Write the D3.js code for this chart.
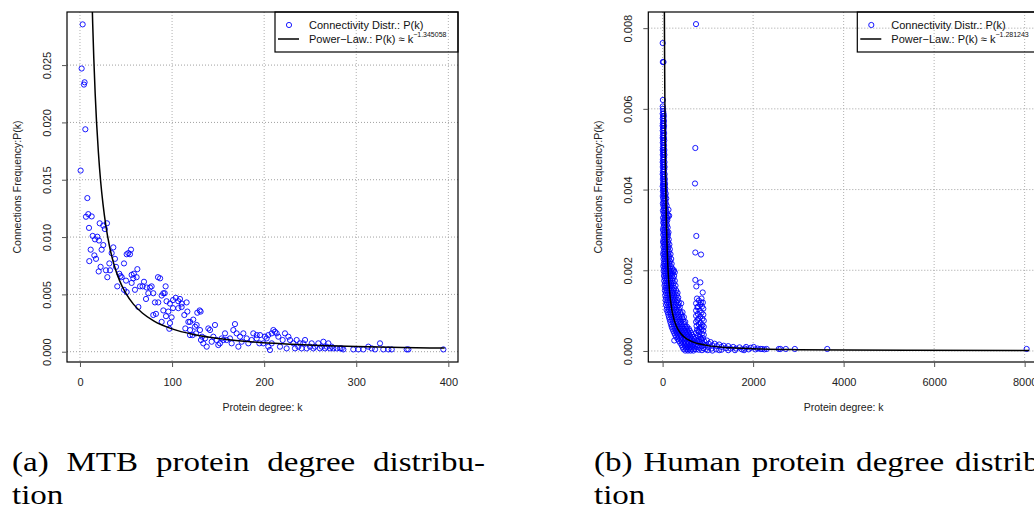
<!DOCTYPE html>
<html>
<head>
<style>
body { margin: 0; background: #fff; }
svg { display: block; }
.tick text { font-family: "Liberation Sans", Arial, sans-serif; font-size: 11px; fill: #222; }
</style>
</head>
<body>
<script src="https://d3js.org/d3.v7.min.js"></script>
<script>
// (a) MTB: connectivity distribution, [k, P(k)]
var mtbPoints = [
  [2.9,.02855],[1.8,.0247],[4.3,.0233],[5,.0235],[5.8,.0194],[0.7,.0158],[8,.0134],[6.5,.01177],[9,.012],[12.7,.0118],
  [9.8,.0108],[21.4,.0112],[25.3,.011],[29.3,.0112],[27,.0107],[13.8,.0101],[16.3,.0098],[18.8,.01003],[20.6,.0097],[11.6,.0089],
  [15.6,.0084],[17.4,.0081],[10.1,.0079],[23.5,.0089],[25.3,.0093],[22.4,.0074],[20.3,.007],[28.2,.0071],[29.7,.0065],[31.9,.0077],
  [34.4,.0086],[36.2,.0091],[38,.0081],[32.6,.0071],[39.1,.0074],[40.5,.0057],[42.7,.0068],[45.3,.0065],[47.8,.0077],[50.7,.0085],
  [52.5,.0086],[54.3,.0085],[55.4,.0089],[47.8,.0054],[50.7,.0052],[50,.0062],[56.1,.0067],[57.9,.0064],[61.5,.0065],[62.3,.0072],
  [56.1,.006],[59.7,.0054],[63.4,.0039],[65.2,.0057],[68,.0057],[69.5,.0061],[72.4,.0056],[74.2,.0051],[71.7,.0046],[76,.0056],
  [77.8,.0057],[79.6,.0051],[81.4,.0043],[85,.0043],[84.7,.0065],[87,.0064],[88.7,.0049],[90.5,.0051],[93,.0057],[92,.0051],
  [79.6,.0032],[82.5,.0033],[90.5,.0036],[88.7,.0026],[94,.0044],[97.7,.0042],[101,.0045],[104,.0047],[106.8,.0044],[108.6,.0046],
  [110.4,.0042],[110.4,.0039],[106.8,.0038],[101,.0038],[95.9,.0035],[99.5,.003],[93.4,.0031],[97.7,.0025],[97,.002],[113.3,.0032],
  [115.8,.0043],[116.6,.0035],[117.7,.0026],[119.5,.0026],[123,.0028],[127.4,.0034],[130,.0036],[131,.0035],[44,.0066],[58.5,.0068],
  [114.4,.00203],[119.5,.00189],[122.4,.00145],[124.9,.00218],[126.7,.00233],[130.3,.00189],[132.5,.00131],[133.9,.00073],[137.6,.00044],[139.4,.00203],
  [141.2,.00189],[144.8,.00131],[146.6,.00233],[148.4,.00102],[152,.00073],[153.9,.00116],[157.5,.0016],[159.3,.00102],[162.9,.00116],[166.5,.00189],
  [168.3,.00241],[170.1,.0016],[172,.00044],[173.8,.00131],[177.4,.0016],[181,.00116],[182.8,.00073],[188.2,.0016],[191.9,.00116],[194.8,.00073],
  [195.5,.00145],[199.1,.00073],[200.9,.00131],[202.7,.00116],[204.5,.00044],[206.3,.00015],[208.2,.00073],[210,.00189],[211.8,.00174],[213.6,.0016],
  [215.4,.00131],[217.2,.00044],[220.1,.00102],[222.6,.0016],[224.4,.00029],[226.3,.00131],[228.1,.00102],[231.7,.00073],[233.5,.00029],[235.3,.00102],
  [237.1,.00044],[238.9,.00073],[240.7,.00029],[242.5,.00073],[244.4,.00102],[246.2,.00029],[249.8,.00044],[251.6,.00073],[253.4,.00029],[255.2,.00044],
  [258.8,.00073],[260.6,.00029],[262.5,.00044],[264.3,.00087],[266.1,.00029],[267.9,.00044],[269.7,.00073],[271.5,.00029],[273.3,.00044],[275.1,.00029],
  [278.7,.00029],[282.4,.00029],[284.2,.00029],[286,.0002],[204.5,.00145],[208.2,.0016],[191.9,.00145],[186.4,.00102],[175.6,.00087],[164.7,.00073],
  [155.7,.00102],[150.2,.00058],[143,.00087],[135.8,.00116],[131.4,.00102],[126,.0016],[119.5,.00145],
  [296.8,.0002],[302.3,.0002],[307.7,.0002],[313.1,.00044],[316.8,.00029],[320.4,.0002],[325.8,.00073],[329.4,.0002],[334.9,.0002],[338.5,.0002],
  [354.8,.0002],[356.6,.0002],[394.6,.0002]
];
// (a) power-law fit
var mtbFit = [
  [13,.031],[13.8,.0286],[15,.0256],[16.5,.0225],[18,.02],[20,.01737],[22.5,.0148],[25,.01287],[28,.01104],[32,.00922],
  [37,.00758],[43,.0062],[50,.00506],[58,.00415],[68,.00335],[80,.00269],[100,.00199],[125,.00148],[150,.00115],[180,.000904],
  [220,.00069],[260,.000551],[300,.000455],[350,.00037],[396,.000313]
];

// (b) Human: scattered points, [k, P(k)]
var humanPoints = [
  [738,.0081],[2,.00763],[5,.00716],[20,.00716],[6,.00622],[3,.00606],[723,.00503],[716,.00415],[745,.00285],[723,.00244],
  [849,.00239],[723,.00176],[834,.0017],[745,.0016],[886,.00145],[258,.00026],[3638,.00005],[8044,.00005],[2922,.00005],[2723,.00005],
  [2605,.00005],[2568,.00005],[2199,.00005],[2162,.00005],[2014,.0001],[1845,.0001],
  [130,.0035],[145,.00335],[110,.0033],[250,.002],[270,.00195],[410,.00118],
  [760,.0013],[860,.0013],[800,.00125],[890,.0012],[740,.00118],[830,.00115],[870,.0011],[770,.00108],[900,.00105],[740,.001],
  [820,.001],[860,.00095],[780,.00092],[900,.0009],[740,.00087],[830,.00085],[880,.0008],[770,.00077],[910,.00075],[740,.00072],
  [840,.0007],[800,.00066],[880,.00064],[750,.00062],[910,.0006],[820,.00057],[860,.00054],[760,.00052],[900,.0005],[800,.00047],
  [740,.00045],[870,.00043],[910,.0004],[780,.00038],[830,.00035],[740,.00033],[890,.00032],[800,.0003],[860,.00027],[760,.00025],
  [920,.00024],[820,.00022],[880,.00019],[740,.00018],[790,.00015],[940,.00015],[860,.00012],[760,.0001],[820,.00008],[900,.00007],
  [740,.00004],[800,.00003],[870,.00002],[950,.00004],[780,.0011],[850,.0012],[790,.0008],[850,.0006],[790,.0005],[850,.0003],
  [980,.00026],[1020,.00018],[1060,.00022],[1100,.00014],[1000,.0001],[1150,.00018],[1200,.00012],[1080,.00006],[1250,.00016],[1300,.0001],
  [1180,.00004],[1350,.00013],[1400,.00007],[1300,.00003],[1450,.00012],[1500,.00006],[1450,.00002],[1560,.0001],[1620,.00006],[1700,.00009],
  [1750,.00004],[1820,.00006],[1900,.00004],[1950,.00008],[2050,.00004],[2100,.00006],[2250,.00004],[2300,.00005],[1600,.00002],[1000,.00002],
  [1100,.00001],[1250,.00002],[1800,.00002]
];
// (b) Human: the dense mass, read row by row as [P(k), [k, k, ...]]
var humanRows = [
  [.00600,[4]],[.00594,[14]],[.00588,[2,22]],[.00582,[9,28]],[.00576,[3,18]],[.00570,[12,30]],[.00564,[5,22]],[.00558,[1,16,32]],
  [.00552,[8,26]],[.00546,[3,20]],[.00540,[12,34]],[.00534,[6,24]],[.00528,[2,16,30]],[.00522,[10,36]],[.00516,[4,22]],[.00510,[14,32]],
  [.00504,[6,26]],[.00498,[2,18,38]],[.00492,[10,30]],[.00486,[4,22,40]],[.00480,[14,34]],[.00474,[6,26]],[.00468,[2,18,42]],[.00462,[10,32]],
  [.00456,[4,24,44]],[.00450,[14,36]],[.00444,[6,28]],[.00438,[2,20,46]],[.00432,[12,36]],[.00426,[5,26,50]],[.00420,[16,40]],[.00414,[8,30,55]],
  [.00408,[2,22,44]],[.00402,[14,36,60]],[.00396,[6,28,50]],[.00390,[18,42,70]],[.00384,[4,32,58]],[.00378,[12,46,80]],[.00372,[24,60]],[.00366,[6,38,72]],
  [.00360,[16,50,90]],[.00354,[28,64]],[.00348,[8,42,80]],[.00342,[20,56,95]],[.00336,[32,70,120]],[.00330,[10,48,88]],[.00324,[24,62,104]],[.00318,[14,40,78]],
  [.00312,[30,58,96]],[.00306,[18,72,112]],[.00300,[8,44,86]],[.00294,[26,60,100,130]],[.00288,[14,46,82,118]],[.00282,[34,70,108]],[.00276,[20,54,92,136]],[.00270,[10,40,76,120]],
  [.00264,[28,62,100,150]],[.00258,[16,48,86,130]],[.00252,[36,72,112,160]],[.00246,[22,56,96,140]],[.00240,[12,44,82,124,175]],[.00234,[30,66,106,150]],[.00228,[20,54,92,136,190]],[.00222,[40,78,118,165]],
  [.00216,[26,62,104,148,200]],[.00210,[16,50,90,132,180]],[.00204,[36,74,116,160,215]],[.00198,[24,60,100,144,190,240]],[.00192,[44,84,126,170,220]],[.00186,[30,70,112,156,205,255]],[.00180,[50,92,136,180,232]],[.00174,[36,78,120,166,214,270]],
  [.00168,[56,100,144,192,245]],[.00162,[42,86,130,176,226,285]],[.00156,[64,108,154,204,258]],[.00150,[50,94,140,188,240,300]],[.00144,[72,118,166,216,272,330]],[.00138,[58,104,152,202,256,315]],[.00132,[80,128,178,230,288,345]],[.00126,[66,114,164,216,270,330]],
  [.00120,[90,140,192,246,304,360]],[.00114,[76,126,178,232,290,350]],[.00108,[100,152,206,262,320,380]],[.00102,[88,138,192,248,306,365]],[.00096,[112,164,218,274,332,392,440]],[.00090,[126,180,236,294,354,414]],[.00084,[140,194,250,308,368,430,470]],[.00078,[156,210,266,326,386,448]],
  [.00072,[170,226,284,344,404,466,500]],[.00066,[186,242,300,362,424,484]],[.00060,[200,258,318,380,442,504,540]],[.00055,[218,276,338,400,462,524,580]],[.00050,[236,296,358,420,484,546,600]],[.00045,[256,316,378,442,506,570,630]],[.00040,[276,338,400,464,528,592,650]],[.00035,[300,360,424,488,552,616,670]],
  [.00030,[330,390,452,516,580,644,700]],[.00025,[360,420,484,548,612,676]],[.00020,[390,452,516,580,644,700]],[.00015,[420,484,548,612,676]],[.00010,[440,500,560,620,680]],[.00005,[460,520,580,640,700]],[.00001,[500,560,620,680]]
];
// (b) power-law fit
var humanFit = [
  [30,.0119],[35,.0098],[40,.00824],[45,.00709],[50,.0062],[60,.0049],[70,.00403],[85,.00314],[100,.00255],[125,.00192],
  [150,.00152],[200,.00105],[250,.00079],[300,.000624],[400,.000432],[500,.000325],[650,.000232],[800,.000178],[1000,.000133],[1400,.0000869],
  [2000,.000055],[3000,.0000327],[4000,.000023],[5500,.0000151],[8100,.0000091]
];

var mtbXTicks = [0, 100, 200, 300, 400];
var mtbYTicks = [0, 0.005, 0.010, 0.015, 0.020, 0.025];
var humanXTicks = [0, 2000, 4000, 6000, 8000];
var humanYTicks = [0, 0.002, 0.004, 0.006, 0.008];
var mtbExponent = "\u22121.345058";
var humanExponent = "\u22121.281243";
var captionA = ["(a) MTB protein degree distribu-", "tion"];
var captionB = ["(b) Human protein degree distribu-", "tion"];

// flatten the row readings into [k, P(k)] pairs
var humanAll = humanPoints.slice();
humanRows.forEach(function(r){
  r[1].forEach(function(k){ humanAll.push([k, r[0]]); });
});

var width = 1034, height = 512;
var svg = d3.select("body").append("svg")
    .attr("width", width)
    .attr("height", height);

var panels = [
  {id: "a", left: 67, right: 458, top: 12, bottom: 362,
   xDomain: [-14.1, 410.5], yDomain: [-0.000898, 0.02963],
   points: mtbPoints, fit: mtbFit, xTicks: mtbXTicks, yTicks: mtbYTicks,
   exponent: mtbExponent, legendLeft: 275, legendRight: 458},
  {id: "b", left: 648.3, right: 1039, top: 12, bottom: 362,
   xDomain: [-316, 8317], yDomain: [-0.000273, 0.0084],
   points: humanAll, fit: humanFit, xTicks: humanXTicks, yTicks: humanYTicks,
   exponent: humanExponent, legendLeft: 857.3, legendRight: 1045}
];

panels.forEach(function(p){
  var x = d3.scaleLinear().domain(p.xDomain).range([p.left, p.right]);
  var y = d3.scaleLinear().domain(p.yDomain).range([p.bottom, p.top]);
  var g = svg.append("g");

  g.append("clipPath").attr("id", "clip-" + p.id)
    .append("rect")
      .attr("x", p.left).attr("y", p.top)
      .attr("width", p.right - p.left).attr("height", p.bottom - p.top);

  // grid
  g.selectAll(".vgrid").data(p.xTicks).enter().append("line")
      .attr("x1", function(d){ return x(d); }).attr("x2", function(d){ return x(d); })
      .attr("y1", p.top).attr("y2", p.bottom)
      .attr("stroke", "#b0b0b0").attr("stroke-dasharray", "1,2");
  g.selectAll(".hgrid").data(p.yTicks).enter().append("line")
      .attr("y1", function(d){ return y(d); }).attr("y2", function(d){ return y(d); })
      .attr("x1", p.left).attr("x2", p.right)
      .attr("stroke", "#a0a0a0").attr("stroke-dasharray", "1,2");

  var plot = g.append("g").attr("clip-path", "url(#clip-" + p.id + ")");

  plot.selectAll("circle").data(p.points).enter().append("circle")
      .attr("cx", function(d){ return x(d[0]); })
      .attr("cy", function(d){ return y(d[1]); })
      .attr("r", 2.6)
      .attr("fill", "none")
      .attr("stroke", "#0000ff")
      .attr("stroke-width", 0.9);

  var line = d3.line()
      .x(function(d){ return x(d[0]); })
      .y(function(d){ return y(d[1]); })
      .curve(d3.curveMonotoneX);

  plot.append("path").datum(p.fit)
      .attr("d", line)
      .attr("fill", "none")
      .attr("stroke", "#000")
      .attr("stroke-width", 1.5);

  // box
  g.append("rect")
      .attr("x", p.left).attr("y", p.top)
      .attr("width", p.right - p.left).attr("height", p.bottom - p.top)
      .attr("fill", "none").attr("stroke", "#000").attr("stroke-width", 1.2);

  // axes
  var xAxis = g.append("g")
      .attr("transform", "translate(0," + p.bottom + ")")
      .call(d3.axisBottom(x).tickValues(p.xTicks).tickSize(5).tickPadding(11).tickFormat(d3.format("d")));
  xAxis.select(".domain").remove();
  xAxis.selectAll(".tick line").attr("stroke", "#555");

  var yAxis = g.append("g")
      .attr("transform", "translate(" + p.left + ",0)")
      .call(d3.axisLeft(y).tickValues(p.yTicks).tickSize(5).tickFormat(d3.format(".3f")));
  yAxis.select(".domain").remove();
  yAxis.selectAll(".tick line").attr("stroke", "#555");
  yAxis.selectAll(".tick text")
      .attr("x", null).attr("dy", "0.35em")
      .attr("text-anchor", "middle")
      .attr("transform", "translate(-20,0) rotate(-90)");

  // axis titles
  g.append("text")
      .attr("x", (p.left + p.right) / 2).attr("y", 411)
      .attr("text-anchor", "middle")
      .style("font-family", "Liberation Sans, Arial, sans-serif")
      .style("font-size", "10.5px").attr("fill", "#222")
      .text("Protein degree: k");
  g.append("text")
      .attr("transform", "translate(" + (p.left - 46) + "," + ((p.top + p.bottom) / 2) + ") rotate(-90)")
      .attr("text-anchor", "middle")
      .style("font-family", "Liberation Sans, Arial, sans-serif")
      .style("font-size", "10.5px").attr("fill", "#222")
      .text("Connections Frequency:P(k)");

  // legend
  var lg = g.append("g");
  lg.append("rect")
      .attr("x", p.legendLeft).attr("y", p.top)
      .attr("width", p.legendRight - p.legendLeft).attr("height", 40)
      .attr("fill", "none").attr("stroke", "#000").attr("stroke-width", 1.2);
  lg.append("circle")
      .attr("cx", p.legendLeft + 14).attr("cy", p.top + 13)
      .attr("r", 2.6).attr("fill", "none").attr("stroke", "#0000ff").attr("stroke-width", 0.9);
  lg.append("line")
      .attr("x1", p.legendLeft + 3).attr("x2", p.legendLeft + 24)
      .attr("y1", p.top + 27).attr("y2", p.top + 27)
      .attr("stroke", "#000").attr("stroke-width", 1.5);
  lg.append("text")
      .attr("x", p.legendLeft + 34).attr("y", p.top + 17)
      .style("font-family", "Liberation Sans, Arial, sans-serif").style("font-size", "11px").attr("fill", "#111")
      .text("Connectivity Distr.: P(k)");
  var t2 = lg.append("text")
      .attr("x", p.legendLeft + 34).attr("y", p.top + 31)
      .style("font-family", "Liberation Sans, Arial, sans-serif").style("font-size", "11px").attr("fill", "#111");
  t2.append("tspan").text("Power\u2212Law.: P(k) \u2248 k");
  t2.append("tspan").attr("dy", -6).style("font-size", "7px").text(p.exponent);
});

// captions, justified like the LaTeX subfigure text
function drawCaption(lines, x0, target){
  var sx = 1.18;
  lines.forEach(function(str, i){
    var g = svg.append("g")
        .attr("transform", "translate(" + x0 + "," + (471 + i * 33) + ") scale(" + sx + ",1)");
    var words = str.split(" ");
    var texts = words.map(function(w){
      return g.append("text")
          .style("font-family", "Liberation Serif, Times New Roman, serif")
          .style("font-size", "28px").attr("fill", "#000")
          .text(w);
    });
    var widths = texts.map(function(t){ return t.node().getComputedTextLength(); });
    var gap = 7;
    if (i === 0 && words.length > 1) {
      gap = Math.max(6, (target / sx - d3.sum(widths)) / (words.length - 1));
    }
    var pos = 0;
    texts.forEach(function(t, j){
      t.attr("x", pos);
      pos += widths[j] + gap;
    });
  });
}
drawCaption(captionA, 12, 473);
drawCaption(captionB, 594, 473);
</script>
</body>
</html>
